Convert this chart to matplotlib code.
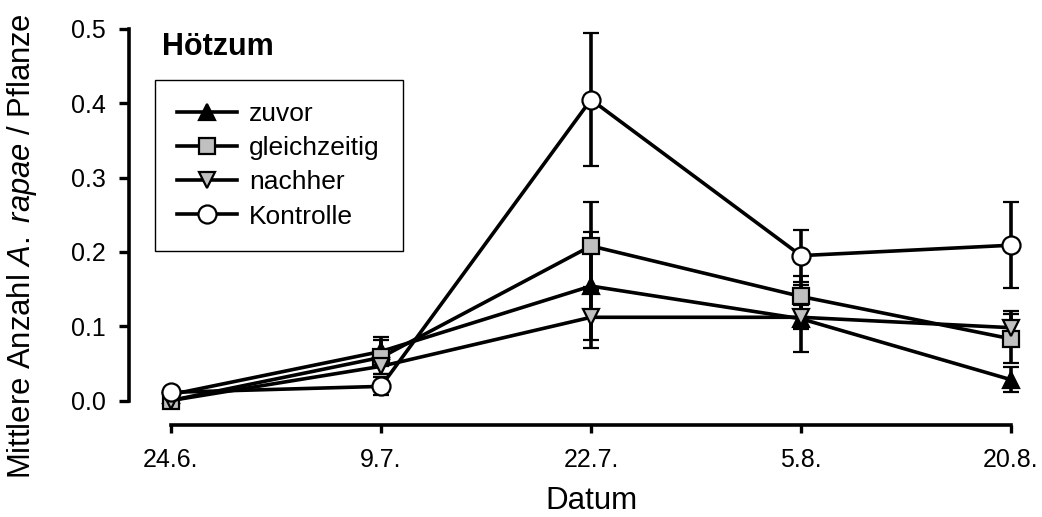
import matplotlib
matplotlib.use("Agg")
import matplotlib.pyplot as plt
from matplotlib.lines import Line2D
import numpy as np

plt.rcParams['font.family'] = ['Liberation Sans', 'DejaVu Sans']
plt.rcParams['mathtext.fontset'] = 'custom'
plt.rcParams['mathtext.rm'] = 'Liberation Sans'
plt.rcParams['mathtext.it'] = 'Liberation Sans:italic'

# sampling dates
dates = ['24.6.', '9.7.', '22.7.', '5.8.', '20.8.']

# mean number per plant and error for each treatment
zuvor = [0.008, 0.066, 0.154, 0.110, 0.028]
zuvor_err = [0.0, 0.019, 0.073, 0.045, 0.017]
gleichzeitig = [0.0, 0.058, 0.208, 0.140, 0.083]
gleichzeitig_err = [0.0, 0.023, 0.059, 0.028, 0.033]
nachher = [0.0, 0.046, 0.112, 0.112, 0.098]
nachher_err = [0.0, 0.010, 0.041, 0.016, 0.023]
kontrolle = [0.011, 0.019, 0.405, 0.195, 0.209]
kontrolle_err = [0.0, 0.012, 0.090, 0.035, 0.058]

labels = ['zuvor', 'gleichzeitig', 'nachher', 'Kontrolle']
grey = '#c0c0c0'

W, H = 1042, 517
fig = plt.figure(figsize=(W / 100, H / 100), dpi=100)
ax = fig.add_axes([171 / W, 1 - 400.5 / H, 840 / W, 371.5 / H])

x = np.arange(len(dates))

#style for each series: marker, size, face colour
styles = [
    ('^', 12, 'black'),
    ('s', 11, grey),
    ('v', 12, grey),
    ('o', 13, 'white'),
]
series = [(zuvor, zuvor_err), (gleichzeitig, gleichzeitig_err),
          (nachher, nachher_err), (kontrolle, kontrolle_err)]

lw = 2.6
handles = []
for (vals, errs), (m, ms, fc), lab in zip(series, styles, labels):
    ax.errorbar(x, vals, yerr=errs, color='black', lw=lw, elinewidth=lw,
                capsize=5.8, capthick=lw, marker=m, markersize=ms,
                markerfacecolor=fc, markeredgecolor='black',
                markeredgewidth=1.6, clip_on=False)
    handles.append(Line2D([], [], color='black', lw=lw, marker=m,
                          markersize=ms, markerfacecolor=fc,
                          markeredgecolor='black', markeredgewidth=1.6))

ax.set_xlim(0, 4)
ax.set_ylim(0, 0.5)
ax.set_xticks(x)
ax.set_xticklabels(dates)
ax.set_yticks([0.0, 0.1, 0.2, 0.3, 0.4, 0.5])
ax.set_yticklabels(['0.0', '0.1', '0.2', '0.3', '0.4', '0.5'])

for s in ['top', 'right']:
    ax.spines[s].set_visible(False)
ax.spines['left'].set_position(('outward', 30.2))
ax.spines['bottom'].set_position(('outward', 17.3))
ax.spines['left'].set_bounds(0, 0.5)
ax.spines['bottom'].set_bounds(0, 4)
ax.spines['left'].set_linewidth(2.6)
ax.spines['bottom'].set_linewidth(2.6)

ax.tick_params(axis='y', length=7, width=2.4, pad=10, labelsize=18)
ax.tick_params(axis='x', length=6, width=2.4, pad=11, labelsize=18)

# axis titles placed in figure pixels
fig.text(591 / W, 1 - 509 / H, 'Datum', ha='center', va='baseline',
         fontsize=22.5)
fig.text(22 / W, 1 - 246 / H, r'Mittlere Anzahl $\mathit{A.\ rapae}$ / Pflanze',
         rotation=90, ha='center', va='center', fontsize=22.3)

fig.text(162 / W, 1 - 55 / H, 'Hötzum', fontweight='bold', fontsize=22,
         va='baseline', ha='left')

leg = ax.legend(handles, labels, loc='upper left', mode='expand',
                bbox_to_anchor=(155 / W, 1 - 251 / H, 248 / W, 171 / H),
                bbox_transform=fig.transFigure, borderaxespad=0,
                fontsize=19, handlelength=2.27, handletextpad=0.45,
                borderpad=0.85, labelspacing=0.38, fancybox=False,
                framealpha=1, edgecolor='black')
leg.get_frame().set_linewidth(1.0)

fig.savefig('out.png', dpi=100)
